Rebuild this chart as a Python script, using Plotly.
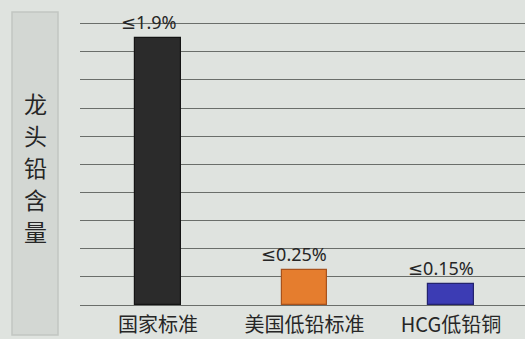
import plotly.graph_objects as go

categories = ["国家标准", "美国低铅标准", "HCG低铅铜"]
lead_pct = [1.9, 0.25, 0.15]
bar_labels = ["≤1.9%", "≤0.25%", "≤0.15%"]
bar_colors = ["#2b2b2b", "#e57d2e", "#3c3cb4"]
edge_colors = ["#141414", "#a8521c", "#23236e"]
label_shift = [-9, -10, -10]
axis_title = "龙头铅含量"

bg = "#dfe3df"
ink = "#262626"
grid = "#6a6e6a"
font_family = "Noto Sans CJK SC, Noto Sans, sans-serif"
num_family = "Noto Sans, DejaVu Sans, sans-serif"

# plot area: x 80..525, y 18..305 (y=0 at 305, 2.04 at top)
ph = 287

fig = go.Figure()
fig.add_trace(go.Bar(
    x=list(range(len(categories))), y=lead_pct, width=0.31,
    marker=dict(color=bar_colors, line=dict(color=edge_colors, width=1.2)),
    showlegend=False, hoverinfo="skip",
))

for i, (v, t) in enumerate(zip(lead_pct, bar_labels)):
    fig.add_annotation(x=i, y=v, text=t, showarrow=False, yanchor="bottom",
                       yshift=2, xshift=label_shift[i],
                       font=dict(size=18, color=ink, family=num_family))

# left title panel, one character per line
fig.add_shape(type="rect", xref="paper", yref="paper",
              x0=-68/445, x1=-22/445, y0=-30/ph, y1=(305-12)/ph,
              fillcolor="#d3d7d3", line=dict(color="#c2c6c2", width=1.5), layer="below")
for k, ch in enumerate(axis_title):
    fig.add_annotation(xref="paper", yref="paper", x=-45/445, y=(305-(103+32*k))/ph,
                       xanchor="center", yanchor="middle", borderpad=0,
                       text=ch, showarrow=False,
                       font=dict(size=23, color=ink, family=font_family))

fig.update_xaxes(range=[-0.532, 2.505], tickvals=list(range(len(categories))),
                 ticktext=categories, showgrid=False, zeroline=False, showline=False,
                 tickfont=dict(size=20, color=ink, family=font_family), ticks="",
                 ticklabelstandoff=6, automargin=False)
fig.update_yaxes(range=[0, 2.04], dtick=0.2, showticklabels=False,
                 gridcolor=grid, gridwidth=1, zeroline=True, zerolinecolor=grid,
                 zerolinewidth=1, showline=False, automargin=False)
fig.update_layout(width=525, height=339, margin=dict(l=80, r=0, t=339 - 34 - ph, b=34),
                  paper_bgcolor=bg, plot_bgcolor=bg, bargap=0,
                  font=dict(family=font_family, color=ink))
fig.write_html("out.html", config={"displayModeBar": False},
               post_script="document.body.style.margin='0';document.body.style.background='%s';" % bg)
